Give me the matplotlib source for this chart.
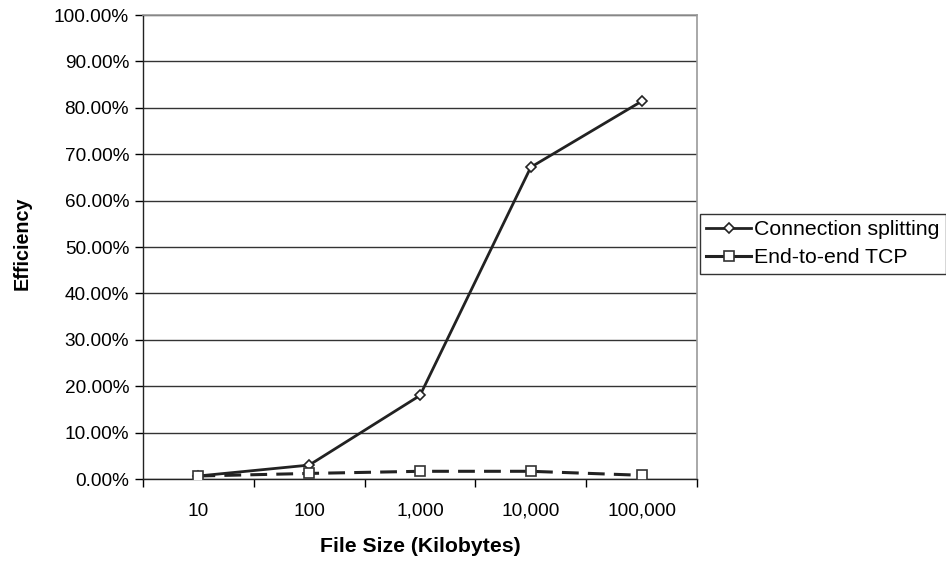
import matplotlib
matplotlib.use("Agg")
import matplotlib.pyplot as plt
from matplotlib.lines import Line2D
from matplotlib.ticker import FuncFormatter, FixedLocator

plt.rcParams['font.family'] = ['Liberation Sans', 'DejaVu Sans']

file_sizes = ['10', '100', '1,000', '10,000', '100,000']
conn_split = [0.65, 3.0, 18.0, 67.2, 81.4]
end_to_end = [0.65, 1.2, 1.66, 1.66, 0.8]

W, H = 946, 562
fig = plt.figure(figsize=(W / 100, H / 100), dpi=100)
ax = fig.add_axes([143 / W, 1 - 479 / H, (697 - 143) / W, (479 - 15) / H])

x = list(range(len(file_sizes)))
cs_style = dict(color='#222222', lw=2, marker='D', ms=5, mfc='white', mec='#222222', mew=1.2)
e2e_style = dict(color='#222222', lw=2.2, marker='s', ms=7, mfc='white', mec='#333333', mew=1.2)
ax.plot(x, conn_split, zorder=3, **cs_style)
ax.plot(x, end_to_end, dashes=(5.5, 3), zorder=3, **e2e_style)

ax.set_xlim(-0.5, len(file_sizes) - 0.5)
ax.set_ylim(0, 100)
ax.set_yticks(range(0, 101, 10))
ax.yaxis.set_major_formatter(FuncFormatter(lambda v, p: '%.2f%%' % v))
ax.set_xticks(x)
ax.set_xticklabels(file_sizes)
ax.xaxis.set_minor_locator(FixedLocator([i - 0.5 for i in range(len(file_sizes) + 1)]))
ax.tick_params(axis='x', which='major', length=0, pad=17, labelsize=13.7)
ax.tick_params(axis='x', which='minor', length=6, width=1, direction='out')
ax.tick_params(axis='y', length=6, width=1, labelsize=13.7, pad=4)

ax.grid(axis='y', color='#333333', lw=1)
ax.set_axisbelow(True)
for s in ['top', 'right']:
    ax.spines[s].set_color('#999999')
    ax.spines[s].set_linewidth(1.2)
for s in ['left', 'bottom']:
    ax.spines[s].set_color('#222222')
    ax.spines[s].set_linewidth(1)

ax.set_ylabel('Efficiency', fontsize=14.2, fontweight='bold', va='center')
ax.yaxis.set_label_coords((22 - 143) / 554, (479 - 243) / 464)
ax.set_xlabel('File Size (Kilobytes)', fontsize=15.3, fontweight='bold', va='center')
ax.xaxis.set_label_coords(0.5, (479 - 546) / 464)

handles = [Line2D([], [], **cs_style), Line2D([], [], **e2e_style)]
labels = ['Connection splitting', 'End-to-end TCP']
leg = fig.legend(handles, labels, loc='upper left', bbox_to_anchor=(700 / W, 1 - 214 / H),
                 fontsize=15.3, frameon=True, fancybox=False, edgecolor='#333333',
                 framealpha=1, borderaxespad=0, borderpad=0.3, handlelength=2.1,
                 handletextpad=0.15, labelspacing=0.42)
leg.get_frame().set_linewidth(1)

fig.savefig('out.png', dpi=100)
